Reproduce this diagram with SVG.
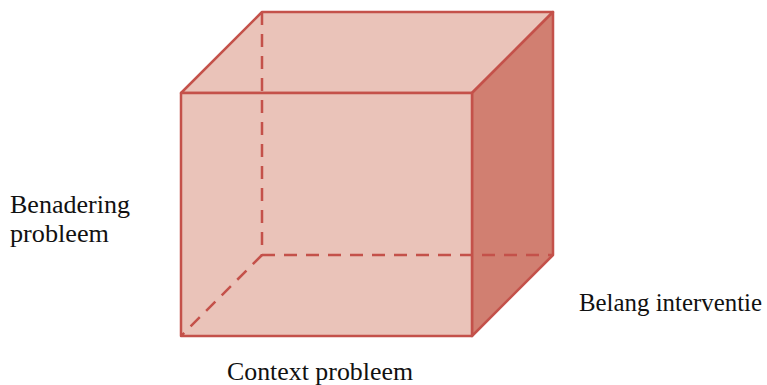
<svg xmlns="http://www.w3.org/2000/svg" width="767" height="385" viewBox="0 0 767 385">
  <style>
    .edge { stroke: #C4514A; stroke-width: 2.5; stroke-linejoin: round; }
    .hidden { stroke: #C4514A; stroke-width: 2.5; stroke-dasharray: 13 9; fill: none; }
    .lbl { font-family: "Liberation Serif", "DejaVu Serif", serif; font-size: 26px; fill: #111; }
  </style>
  <rect width="767" height="385" fill="#fff"/>
  <g id="cube">
    <!-- top face -->
    <polygon class="edge" points="181,93 262,12 553,12 472,93" fill="#EAC3B9"/>
    <!-- right side face -->
    <polygon class="edge" points="472,93 553,12 553,255 472,336" fill="#D17F71"/>
    <!-- front face -->
    <rect class="edge" x="181" y="93" width="291" height="243" fill="#EAC3B9"/>
  </g>
  <g id="connectors">
    <!-- hidden back edges -->
    <line class="hidden" x1="262" y1="12" x2="262" y2="255"/>
    <line class="hidden" x1="262" y1="255" x2="553" y2="255"/>
    <line class="hidden" x1="262" y1="255" x2="181" y2="336"/>
  </g>
  <g id="labels">
    <text class="lbl" x="10" y="213" textLength="120" lengthAdjust="spacingAndGlyphs">Benadering</text>
    <text class="lbl" x="10" y="242" textLength="99" lengthAdjust="spacingAndGlyphs">probleem</text>
    <text class="lbl" x="579" y="311" textLength="183" lengthAdjust="spacingAndGlyphs">Belang interventie</text>
    <text class="lbl" x="227" y="380" textLength="186" lengthAdjust="spacingAndGlyphs">Context probleem</text>
  </g>
</svg>
